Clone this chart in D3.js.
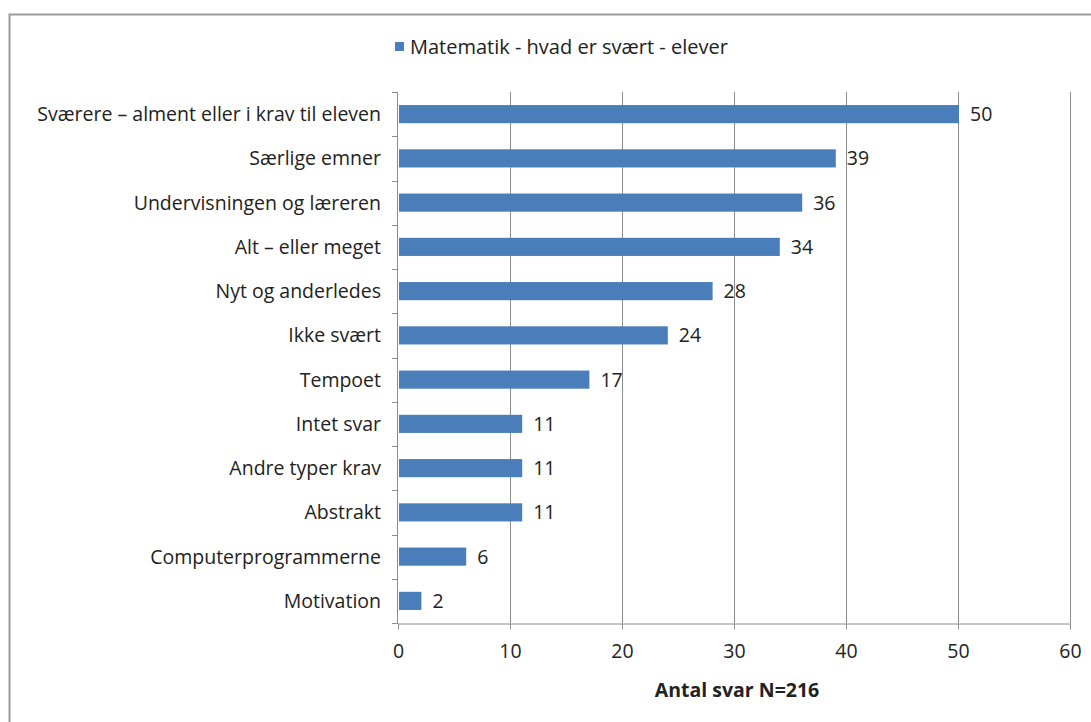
<!DOCTYPE html>
<html>
<head>
<meta charset="utf-8">
<script src="https://cdn.jsdelivr.net/npm/d3@7"></script>
<style>
  html, body { margin: 0; padding: 0; background: #fff; }
  svg { display: block; }
  text { font-family: "Open Sans", "Liberation Sans", sans-serif; fill: #222; }
</style>
</head>
<body>
<svg id="chart" width="1091" height="722"></svg>
<script>
// Categories (top to bottom) and number of answers
const categories = [
  "Sværere – alment eller i krav til eleven",
  "Særlige emner",
  "Undervisningen og læreren",
  "Alt – eller meget",
  "Nyt og anderledes",
  "Ikke svært",
  "Tempoet",
  "Intet svar",
  "Andre typer krav",
  "Abstrakt",
  "Computerprogrammerne",
  "Motivation"
];
const values = [50, 39, 36, 34, 28, 24, 17, 11, 11, 11, 6, 2];
const xTicks = [0, 10, 20, 30, 40, 50, 60];
const seriesName = "Matematik - hvad er svært - elever";
const axisTitle = "Antal svar N=216";

const svg = d3.select("#chart");
const W = 1091, H = 722;
const margin = { left: 398, right: 21, top: 92, bottom: 99 };
const barColor = "#4a7ebb";
const gridColor = "#8c8c8c";
const fontSize = 19.5;

// outer frame
svg.append("rect")
  .attr("x", 9.5).attr("y", 14.5)
  .attr("width", W + 20).attr("height", H + 20)
  .attr("fill", "none").attr("stroke", "#9a9a9a").attr("stroke-width", 2);

const x = d3.scaleLinear().domain([0, 60]).range([margin.left, W - margin.right]);
const y = d3.scaleBand().domain(categories).range([margin.top, H - margin.bottom]).paddingInner(0.59).paddingOuter(0.295);
const yBounds = d3.scaleBand().domain(categories).range([margin.top, H - margin.bottom]);

// vertical gridlines
svg.append("g").selectAll("line")
  .data(xTicks.filter(d => d > 0))
  .join("line")
  .attr("x1", d => x(d) + 0.5).attr("x2", d => x(d) + 0.5)
  .attr("y1", margin.top).attr("y2", H - margin.bottom)
  .attr("stroke", gridColor).attr("stroke-width", 1);

// bars
svg.append("g").selectAll("rect")
  .data(values)
  .join("rect")
  .attr("x", x(0) + 1)
  .attr("y", (d, i) => y(categories[i]))
  .attr("width", d => x(d) - x(0))
  .attr("height", y.bandwidth())
  .attr("fill", barColor);

// value labels
svg.append("g").selectAll("text")
  .data(values)
  .join("text")
  .attr("x", d => x(d) + 12)
  .attr("y", (d, i) => y(categories[i]) + y.bandwidth() / 2)
  .attr("dy", "0.36em")
  .attr("font-size", fontSize)
  .text(d => d);

// category axis
const yAxisG = svg.append("g");
yAxisG.append("line")
  .attr("x1", x(0) - 0.5).attr("x2", x(0) - 0.5)
  .attr("y1", margin.top).attr("y2", H - margin.bottom)
  .attr("stroke", gridColor);
const boundaries = categories.map(c => yBounds(c)).concat([H - margin.bottom]);
yAxisG.selectAll("line.tick")
  .data(boundaries)
  .join("line")
  .attr("class", "tick")
  .attr("x1", x(0) - 6).attr("x2", x(0))
  .attr("y1", d => Math.round(d) + 0.5).attr("y2", d => Math.round(d) + 0.5)
  .attr("stroke", gridColor);
yAxisG.selectAll("text")
  .data(categories)
  .join("text")
  .attr("x", x(0) - 17)
  .attr("y", d => y(d) + y.bandwidth() / 2)
  .attr("dy", "0.36em")
  .attr("text-anchor", "end")
  .attr("font-size", fontSize)
  .text(d => d);

// value axis
const xAxisG = svg.append("g")
  .attr("transform", `translate(0,${H - margin.bottom + 0.5})`)
  .call(d3.axisBottom(x).tickValues(xTicks).tickSize(6).tickPadding(15).tickSizeOuter(0));
xAxisG.select(".domain").attr("stroke", gridColor);
xAxisG.selectAll(".tick line").attr("stroke", gridColor);
xAxisG.selectAll(".tick text")
  .attr("font-size", fontSize)
  .attr("font-family", "\"Open Sans\", \"Liberation Sans\", sans-serif")
  .attr("fill", "#222");

// axis title
svg.append("text")
  .attr("x", (x(0) + x(60)) / 2 + 3)
  .attr("y", 697)
  .attr("text-anchor", "middle")
  .attr("font-size", fontSize)
  .attr("font-weight", "bold")
  .text(axisTitle);

// legend
const legend = svg.append("g").attr("transform", "translate(395,47)");
legend.append("rect")
  .attr("x", 0).attr("y", -5)
  .attr("width", 9).attr("height", 9)
  .attr("fill", barColor);
legend.append("text")
  .attr("x", 15).attr("y", 0)
  .attr("dy", "0.36em")
  .attr("font-size", 20)
  .text(seriesName);
</script>
</body>
</html>
